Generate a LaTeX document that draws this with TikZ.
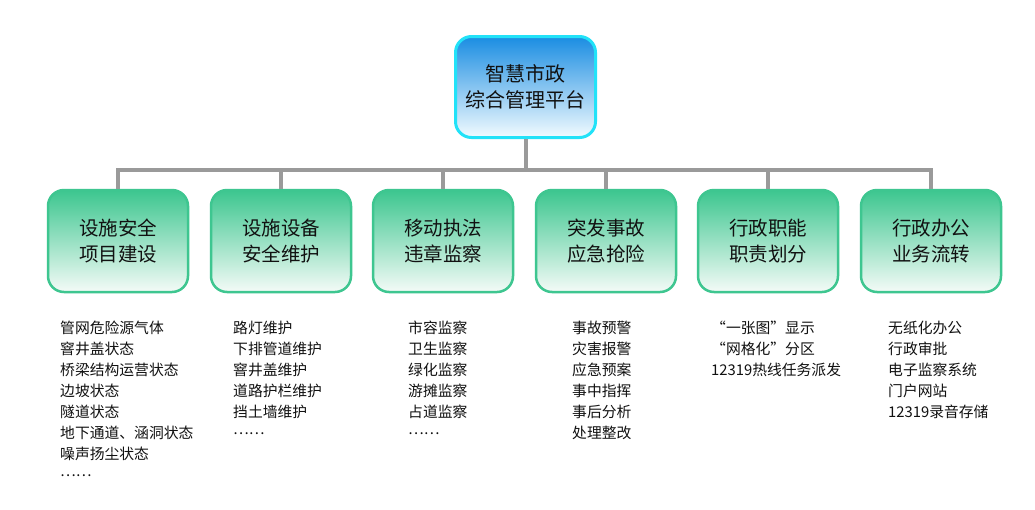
\documentclass[tikz,border=0pt]{standalone}
\usepackage{fontspec}
\setmainfont{Noto Sans CJK SC}
\newcommand{\dotsline}{\raisebox{0.3em}{……}}
\begin{document}
\begin{tikzpicture}[x=1pt,y=-1pt,
  topbox/.style={draw=cyanborder, line width=3pt, rounded corners=16pt,
    top color=topblue, bottom color=topwhite, minimum width=140pt, minimum height=101pt,
    align=center, text=textdark, font={\fontsize{20}{26}\selectfont}},
  catbox/.style={draw=greenborder, line width=2.5pt, rounded corners=16pt,
    top color=topgreen, bottom color=greenwhite, minimum width=140pt, minimum height=102pt,
    align=center, text=textdark, font={\fontsize{19.5}{26}\selectfont}},
  listtext/.style={anchor=north west, inner sep=0pt, align=left, text=textdark,
    font={\fontsize{14.8}{21}\selectfont}},
  conn/.style={draw=linegray, line width=4pt, line join=miter}]
\definecolor{cyanborder}{HTML}{22E2F8}
\definecolor{topblue}{HTML}{1A8DE2}
\definecolor{topwhite}{HTML}{F2FBFF}
\definecolor{greenborder}{HTML}{3EC690}
\definecolor{topgreen}{HTML}{3CC68F}
\definecolor{greenwhite}{HTML}{F4FBF7}
\definecolor{linegray}{HTML}{9A9A9A}
\definecolor{textdark}{HTML}{111111}
\useasboundingbox[fill=white] (0,0) rectangle (1035,509);

\node[topbox] (top) at (525.5,87) {智慧市政\\综合管理平台};
\coordinate (bus) at (525.5,170);

\node[catbox] (c1) at (118,241) {设施安全\\项目建设};
\node[catbox] (c2) at (281,241) {设施设备\\安全维护};
\node[catbox] (c3) at (443,241) {移动执法\\违章监察};
\node[catbox] (c4) at (606,241) {突发事故\\应急抢险};
\node[catbox] (c5) at (768,241) {行政职能\\职责划分};
\node[catbox] (c6) at (931,241) {行政办公\\业务流转};

\begin{scope}[on background layer/.try]
\draw[conn] (top.south) -- (bus);
\foreach \c in {c1,c2,c3,c4,c5,c6} {
  \draw[conn] (\c.north) -- (\c.north |- bus) -- (bus);
}
\end{scope}

\node[listtext] (l1) at (60,321) {管网危险源气体\\窨井盖状态\\桥梁结构运营状态\\边坡状态\\隧道状态\\地下通道、涵洞状态\\噪声扬尘状态\\\dotsline};
\node[listtext] (l2) at (233,321) {路灯维护\\下排管道维护\\窨井盖维护\\道路护栏维护\\挡土墙维护\\\dotsline};
\node[listtext] (l3) at (408,321) {市容监察\\卫生监察\\绿化监察\\游摊监察\\占道监察\\\dotsline};
\node[listtext] (l4) at (572,321) {事故预警\\灾害报警\\应急预案\\事中指挥\\事后分析\\处理整改};
\node[listtext] (l5) at (711,321) {“一张图”显示\\“网格化”分区\\12319热线任务派发};
\node[listtext] (l6) at (888,321) {无纸化办公\\行政审批\\电子监察系统\\门户网站\\12319录音存储};
\end{tikzpicture}
\end{document}
